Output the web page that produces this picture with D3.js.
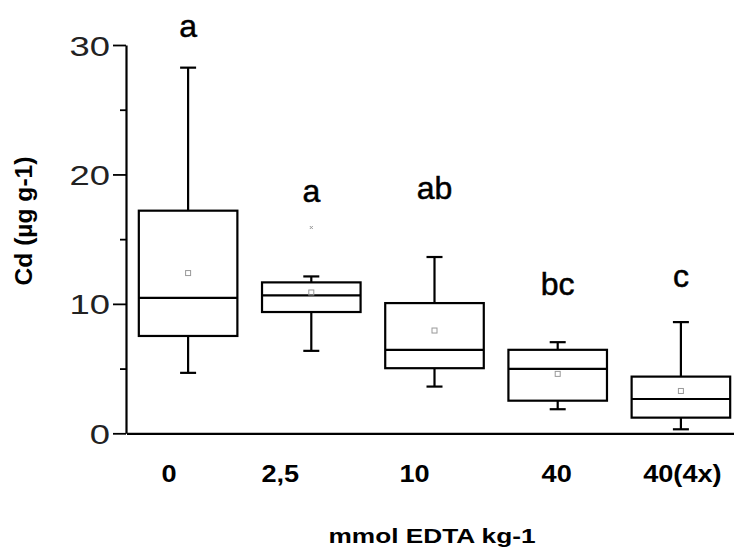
<!DOCTYPE html>
<html>
<head>
<meta charset="utf-8">
<script src="https://cdn.jsdelivr.net/npm/d3@7"></script>
<style>
  body { margin: 0; background: #fff; }
  svg { display: block; }
  text { font-family: "Liberation Sans", Arial, sans-serif; }
</style>
</head>
<body>
<svg id="chart" width="734" height="551"></svg>
<script>
// ---- data: Cd concentration per EDTA treatment (box statistics) ----
const categories  = ["0", "2,5", "10", "40", "40(4x)"];
const whiskerLow  = [4.67, 6.37, 3.61, 1.86, 0.31];
const quartile1   = [7.52, 9.37, 5.03, 2.52, 1.21];
const medians     = [10.46, 10.65, 6.45, 4.98, 2.65];
const quartile3   = [17.2, 11.66, 10.06, 6.45, 4.38];
const whiskerHigh = [28.25, 12.12, 13.62, 7.04, 8.59];
const means       = [12.38, 10.88, 7.94, 4.59, 3.27];
const outlierCats = ["2,5"];
const outlierVals = [15.9];
const groupLetters = ["a", "a", "ab", "bc", "c"];
const yMajorTicks = [0, 10, 20, 30];
const yMinorTicks = [5, 15, 25];

// ---- layout ----
const plotLeft = 126.5, plotRight = 742.5, plotTop = 45, plotBottom = 433.3;
const letterLevels = [30.65, 17.9, 18.1, 10.69, 11.33];   // baseline of significance letters, in y units
const tickShift = [-19, -31, -20, -1, 1.5];              // horizontal nudge of category labels
const capWidth = 16;

const svg = d3.select("#chart");

const x = d3.scaleBand()
  .domain(categories)
  .range([plotLeft, plotRight])
  .paddingInner(0.2)
  .paddingOuter(0.1);

const y = d3.scaleLinear().domain([0, 30]).range([plotBottom, plotTop]);

const bw = x.bandwidth();
const cx = c => x(c) + bw / 2;

const rows = categories.map((c, i) => ({
  c, lo: whiskerLow[i], q1: quartile1[i], med: medians[i],
  q3: quartile3[i], hi: whiskerHigh[i], mean: means[i],
  letter: groupLetters[i], letterAt: letterLevels[i], shift: tickShift[i]
}));

// ---- boxes ----
const box = svg.append("g")
  .attr("fill", "none")
  .attr("stroke", "#000")
  .attr("stroke-width", 2.2);

const g = box.selectAll("g.box").data(rows).join("g").attr("class", "box");

// upper and lower whiskers
g.append("line")
  .attr("x1", d => cx(d.c)).attr("x2", d => cx(d.c))
  .attr("y1", d => y(d.q3)).attr("y2", d => y(d.hi));
g.append("line")
  .attr("x1", d => cx(d.c)).attr("x2", d => cx(d.c))
  .attr("y1", d => y(d.q1)).attr("y2", d => y(d.lo));
// whisker caps
g.append("line")
  .attr("x1", d => cx(d.c) - capWidth / 2).attr("x2", d => cx(d.c) + capWidth / 2)
  .attr("y1", d => y(d.hi)).attr("y2", d => y(d.hi));
g.append("line")
  .attr("x1", d => cx(d.c) - capWidth / 2).attr("x2", d => cx(d.c) + capWidth / 2)
  .attr("y1", d => y(d.lo)).attr("y2", d => y(d.lo));
// interquartile box
g.append("rect")
  .attr("x", d => x(d.c)).attr("width", bw)
  .attr("y", d => y(d.q3)).attr("height", d => y(d.q1) - y(d.q3))
  .attr("fill", "#fff");
// median
g.append("line")
  .attr("x1", d => x(d.c)).attr("x2", d => x(d.c) + bw)
  .attr("y1", d => y(d.med)).attr("y2", d => y(d.med));

// mean markers (small hollow squares)
svg.append("g").selectAll("rect").data(rows).join("rect")
  .attr("x", d => cx(d.c) - 2.5).attr("y", d => y(d.mean) - 2.5)
  .attr("width", 5).attr("height", 5)
  .attr("fill", "none").attr("stroke", "#999").attr("stroke-width", 1);

// outliers
svg.append("g").selectAll("path").data(outlierCats.map((c, i) => ({ c, v: outlierVals[i] })))
  .join("path")
  .attr("d", d => `M${cx(d.c) - 1.5},${y(d.v) - 1.5}l3,3M${cx(d.c) + 1.5},${y(d.v) - 1.5}l-3,3`)
  .attr("stroke", "#999").attr("stroke-width", 1);

// ---- axes ----
const yAxisG = svg.append("g").attr("transform", `translate(${plotLeft - 0.5},0)`);
yAxisG.call(d3.axisLeft(y).tickValues(yMinorTicks).tickSize(6).tickFormat(""))
  .call(s => s.select(".domain").remove());
const yMajor = yAxisG.append("g")
  .call(d3.axisLeft(y).tickValues(yMajorTicks).tickSize(13).tickSizeOuter(0));
yAxisG.selectAll("line").attr("stroke", "#000").attr("stroke-width", 1.8);
yMajor.select(".domain").attr("stroke", "#000").attr("stroke-width", 2.2);
yMajor.selectAll("text")
  .attr("x", 0).attr("dy", "0.36em")
  .attr("transform", "translate(-16,0) scale(1.3,1)")
  .attr("text-anchor", "end")
  .attr("fill", "#222")
  .style("font-size", "28px")
  .style("font-family", "'Liberation Sans', Arial, sans-serif");

const xAxisG = svg.append("g").attr("transform", `translate(0,${plotBottom})`)
  .call(d3.axisBottom(x).tickSize(0).tickSizeOuter(0));
xAxisG.select(".domain").attr("stroke", "#000").attr("stroke-width", 2.2);
xAxisG.selectAll(".tick text")
  .attr("y", 0).attr("dy", 0)
  .attr("transform", (d, i) => `translate(${rows[i].shift},48.4) scale(1.18,1)`)
  .attr("text-anchor", "middle")
  .attr("fill", "#000")
  .style("font-size", "23px")
  .style("font-weight", "bold")
  .style("font-family", "'Liberation Sans', Arial, sans-serif");

// ---- significance letters ----
svg.append("g").selectAll("text").data(rows).join("text")
  .attr("x", d => cx(d.c)).attr("y", d => y(d.letterAt))
  .attr("text-anchor", "middle")
  .attr("stroke", "#000").attr("stroke-width", 0.5)
  .style("font-size", "32px")
  .text(d => d.letter);

// ---- axis titles ----
svg.append("text")
  .attr("transform", "translate(432,543) scale(1.25,1)")
  .attr("text-anchor", "middle")
  .style("font-size", "21px").style("font-weight", "bold")
  .text("mmol EDTA kg-1");

svg.append("text")
  .attr("transform", "translate(32,221) rotate(-90) scale(1.07,1)")
  .attr("text-anchor", "middle")
  .style("font-size", "23px").style("font-weight", "bold")
  .text("Cd (µg g-1)");
</script>
</body>
</html>
